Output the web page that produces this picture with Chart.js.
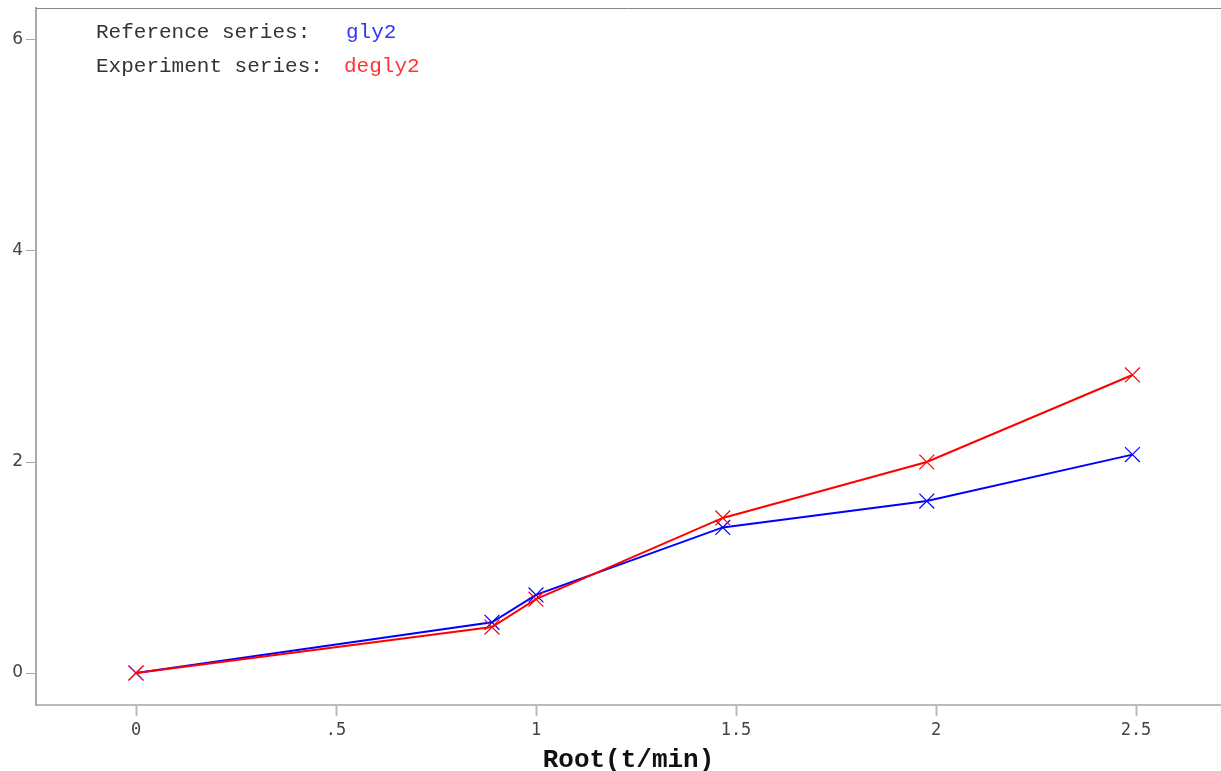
<!DOCTYPE html>
<html>
<head>
<meta charset="utf-8">
<script src="https://cdn.jsdelivr.net/npm/chart.js@4/dist/chart.umd.min.js"></script>
<style>
html,body{margin:0;padding:0;background:#fff;}
#wrap{width:1221px;height:771px;}
</style>
</head>
<body>
<div id="wrap"><canvas id="c" width="1221" height="771"></canvas></div>
<script>
const xValues = [0, 0.89, 1.0, 1.467, 1.977, 2.491];
const referenceValues = [0, 0.48, 0.74, 1.38, 1.63, 2.07];
const experimentValues = [0, 0.435, 0.70, 1.47, 2.00, 2.825];
const xTicks = [0, 0.5, 1, 1.5, 2, 2.5];
const xTickLabels = ["0", ".5", "1", "1.5", "2", "2.5"];
const yTicks = [0, 2, 4, 6];
const yTickLabels = ["0", "2", "4", "6"];
const referenceName = "gly2";
const experimentName = "degly2";

const toPoints = (xs, ys) => xs.map((x, i) => ({x: x, y: ys[i]}));

const legendPlugin = {
  id: 'legendText',
  afterDraw(chart) {
    const ctx = chart.ctx;
    const a = chart.chartArea;
    ctx.save();
    // top frame line
    ctx.strokeStyle = '#888';
    ctx.lineWidth = 1;
    ctx.beginPath();
    ctx.moveTo(a.left, a.top + 0.5);
    ctx.lineTo(chart.width, a.top + 0.5);
    ctx.stroke();
    ctx.font = '21px "Liberation Mono", monospace';
    ctx.textBaseline = 'alphabetic';
    ctx.textAlign = 'left';
    ctx.fillStyle = '#333';
    ctx.fillText('Reference series:', a.left + 60, a.top + 30);
    ctx.fillText('Experiment series:', a.left + 60, a.top + 64);
    ctx.fillStyle = '#3333ff';
    ctx.fillText(referenceName, a.left + 310, a.top + 30);
    ctx.fillStyle = '#ff3333';
    ctx.fillText(experimentName, a.left + 308, a.top + 64);
    ctx.restore();
  }
};

new Chart(document.getElementById('c'), {
  type: 'scatter',
  data: {
    datasets: [
      {
        label: referenceName,
        data: toPoints(xValues, referenceValues),
        order: 2,
        showLine: true,
        borderColor: '#0000ff',
        backgroundColor: '#0000ff',
        borderWidth: 2,
        pointStyle: 'crossRot',
        pointRadius: 10.5,
        pointBorderWidth: 1.2,
        pointBorderColor: '#0000ff',
        tension: 0
      },
      {
        label: experimentName,
        data: toPoints(xValues, experimentValues),
        order: 1,
        showLine: true,
        borderColor: '#ff0000',
        backgroundColor: '#ff0000',
        borderWidth: 2,
        pointStyle: 'crossRot',
        pointRadius: 10.5,
        pointBorderWidth: 1.2,
        pointBorderColor: '#ff0000',
        tension: 0
      }
    ]
  },
  options: {
    responsive: false,
    animation: false,
    devicePixelRatio: 1,
    layout: {autoPadding: false, padding: {top: 8, left: 0, right: 0, bottom: 0}},
    plugins: {
      legend: {display: false},
      tooltip: {enabled: false}
    },
    scales: {
      x: {
        type: 'linear',
        min: -0.25,
        max: 2.7125,
        afterFit(scale) { scale.height = 66; scale.paddingLeft = 0; scale.paddingRight = 0; },
        afterBuildTicks(scale) { scale.ticks = xTicks.map(v => ({value: v})); },
        border: {display: true, color: '#bbb', width: 2},
        grid: {drawOnChartArea: false, drawTicks: true, tickLength: 11, tickColor: '#bbb', tickWidth: 2},
        ticks: {
          padding: 4,
          color: '#444',
          font: {family: '"DejaVu Sans Mono", monospace', size: 17},
          maxRotation: 0,
          callback: (v, i) => xTickLabels[i]
        },
        title: {
          display: true,
          text: 'Root(t/min)',
          color: '#111',
          font: {family: '"Liberation Mono", monospace', size: 26, weight: 'bold', lineHeight: 0.8},
          padding: {top: 0, bottom: 0}
        }
      },
      y: {
        type: 'linear',
        min: -0.3033,
        max: 6.3033,
        afterFit(scale) { scale.width = 36; scale.paddingTop = 0; scale.paddingBottom = 0; },
        afterBuildTicks(scale) { scale.ticks = yTicks.map(v => ({value: v})); },
        border: {display: true, color: '#aaa', width: 2},
        grid: {drawOnChartArea: false, drawTicks: true, tickLength: 10, tickColor: '#aaa', tickWidth: 1},
        ticks: {
          padding: 3,
          color: '#444',
          font: {family: '"DejaVu Sans", sans-serif', size: 17},
          callback: (v, i) => yTickLabels[i]
        }
      }
    }
  },
  plugins: [legendPlugin]
});
</script>
</body>
</html>
